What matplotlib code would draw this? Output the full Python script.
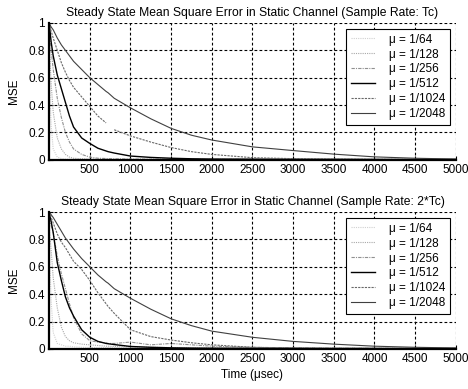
import numpy as np
import matplotlib
matplotlib.use("Agg")
import matplotlib.pyplot as plt

plt.rcParams["font.family"] = ["Liberation Sans", "DejaVu Sans"]
plt.rcParams["font.size"] = 8.5

# time axis (usec) shared by every curve
time_us = [0, 25, 50, 100, 150, 200, 250, 300, 400, 500, 600, 700, 725, 800,
           1000, 1250, 1500, 1750, 2000, 2500, 3000, 3500, 4000, 4500, 5000]

mu_labels = ["\u03bc = 1/64", "\u03bc = 1/128", "\u03bc = 1/256",
             "\u03bc = 1/512", "\u03bc = 1/1024", "\u03bc = 1/2048"]

# MSE (sample rate Tc)
top_mu64 = [0.67, 0.25, 0.08, 0.02, 0.01, 0.006, 0.005, 0.004, 0.004, 0.003, 0.003, 0.003, 0.003, 0.003,
            0.003, 0.002, 0.002, 0.002, 0.002, 0.002, 0.002, 0.002, 0.002, 0.002, 0.002]
top_mu128 = [0.9, 0.55, 0.35, 0.16, 0.08, 0.04, 0.02, 0.012, 0.008, 0.006, 0.005, 0.005, 0.005, 0.004,
             0.004, 0.004, 0.003, 0.003, 0.003, 0.003, 0.003, 0.003, 0.003, 0.003, 0.003]
top_mu256 = [0.95, 0.8, 0.66, 0.45, 0.31, 0.2, 0.13, 0.08, 0.04, 0.02, 0.012, 0.01, 0.009, 0.008,
             0.006, 0.005, 0.005, 0.004, 0.004, 0.004, 0.004, 0.003, 0.003, 0.003, 0.003]
top_mu512 = [1.0, 0.86, 0.76, 0.62, 0.52, 0.42, 0.32, 0.24, 0.16, 0.12, 0.085, 0.065, 0.06, 0.05,
             0.028, 0.018, 0.012, 0.008, 0.006, 0.005, 0.004, 0.004, 0.003, 0.003, 0.003]
top_mu1024 = [1.0, 0.94, 0.89, 0.8, 0.71, 0.64, 0.58, 0.53, 0.46, 0.39, 0.32, 0.27, np.nan, 0.22,
              0.175, 0.13, 0.09, 0.06, 0.04, 0.016, 0.009, 0.006, 0.004, 0.003, 0.003]
top_mu2048 = [1.0, 0.97, 0.95, 0.89, 0.84, 0.8, 0.76, 0.72, 0.66, 0.6, 0.55, 0.5, 0.49, 0.45,
              0.38, 0.3, 0.23, 0.18, 0.145, 0.095, 0.068, 0.042, 0.022, 0.012, 0.006]

# MSE (sample rate 2*Tc)
bot_mu64 = [0.8, 0.35, 0.12, 0.04, 0.03, 0.02, 0.02, 0.015, 0.012, 0.01, 0.01, 0.01, 0.01, 0.008,
            0.008, 0.006, 0.006, 0.005, 0.005, 0.004, 0.004, 0.004, 0.003, 0.003, 0.003]
bot_mu128 = [0.9, 0.72, 0.52, 0.3, 0.16, 0.09, 0.06, 0.045, 0.035, 0.03, 0.025, 0.02, 0.02, 0.018,
             0.015, 0.012, 0.01, 0.008, 0.007, 0.005, 0.004, 0.004, 0.003, 0.003, 0.003]
bot_mu256 = [0.95, 0.9, 0.85, 0.68, 0.55, 0.44, 0.33, 0.23, 0.11, 0.06, 0.05, 0.045, 0.04, 0.04,
             0.05, 0.03, 0.04, 0.03, 0.02, 0.012, 0.008, 0.006, 0.005, 0.004, 0.004]
bot_mu512 = [1.0, 0.93, 0.85, 0.63, 0.5, 0.38, 0.3, 0.24, 0.14, 0.085, 0.055, 0.04, 0.038, 0.032,
             0.018, 0.012, 0.008, 0.006, 0.005, 0.004, 0.004, 0.003, 0.003, 0.003, 0.003]
bot_mu1024 = [1.0, 0.96, 0.92, 0.84, 0.78, 0.74, 0.69, 0.64, 0.58, 0.5, 0.41, 0.33, 0.31, 0.26,
              0.14, 0.09, 0.065, 0.045, 0.03, 0.012, 0.006, 0.004, 0.004, 0.003, 0.003]
bot_mu2048 = [1.0, 0.98, 0.96, 0.91, 0.86, 0.81, 0.77, 0.73, 0.66, 0.6, 0.54, 0.49, 0.48, 0.44,
              0.37, 0.29, 0.22, 0.17, 0.13, 0.085, 0.055, 0.035, 0.02, 0.012, 0.007]

x_ticks = [500, 1000, 1500, 2000, 2500, 3000, 3500, 4000, 4500, 5000]
y_ticks = [0, 0.2, 0.4, 0.6, 0.8, 1]
y_tick_labels = ["0", "0.2", "0.4", "0.6", "0.8", "1"]

styles = [
    dict(color="#d0d0d0", linestyle=(0, (1, 1)), linewidth=0.8),
    dict(color="#a8a8a8", linestyle=(0, (1, 1)), linewidth=0.8),
    dict(color="#909090", linestyle=(0, (3, 1, 1, 1)), linewidth=0.8),
    dict(color="black", linestyle="-", linewidth=1.0),
    dict(color="#686868", linestyle=(0, (2, 1)), linewidth=0.8),
    dict(color="#404040", linestyle="-", linewidth=0.8),
]

fig = plt.figure(figsize=(4.68, 3.89), dpi=100)
ax_top = fig.add_axes([0.105, 0.589, 0.869, 0.352])
ax_bot = fig.add_axes([0.105, 0.103, 0.869, 0.352])

panels = [
    (ax_top, [top_mu64, top_mu128, top_mu256, top_mu512, top_mu1024, top_mu2048],
     "Steady State Mean Square Error in Static Channel (Sample Rate: Tc)"),
    (ax_bot, [bot_mu64, bot_mu128, bot_mu256, bot_mu512, bot_mu1024, bot_mu2048],
     "Steady State Mean Square Error in Static Channel (Sample Rate: 2*Tc)"),
]

for ax, series, title in panels:
    for vals, label, st in zip(series, mu_labels, styles):
        ax.plot(time_us, vals, label=label, **st)
    ax.set_xlim(0, 5000)
    ax.set_ylim(0, 1)
    ax.set_xticks(x_ticks)
    ax.set_yticks(y_ticks)
    ax.set_yticklabels(y_tick_labels)
    ax.tick_params(direction="in", length=3, labelsize=8.5, pad=3)
    ax.grid(True, color="black", linestyle=(0, (2.5, 2)), linewidth=0.8)
    ax.spines["top"].set_visible(False)
    ax.spines["right"].set_visible(False)
    ax.spines["left"].set_linewidth(1.6)
    ax.spines["bottom"].set_linewidth(1.6)
    ax.set_ylabel("MSE", fontsize=8.5, labelpad=6)
    ax.set_title(title, fontsize=8.7, pad=5)
    leg = ax.legend(loc="upper right", fontsize=8.5, fancybox=False, framealpha=1,
                    edgecolor="black", handlelength=2.0, labelspacing=0.25,
                    borderaxespad=0.5, handletextpad=1.2, borderpad=0.4)
    leg.get_frame().set_linewidth(0.8)

ax_bot.set_xlabel("Time (\u03bcsec)", fontsize=8.5, labelpad=3)

fig.savefig("out.png", dpi=100)
